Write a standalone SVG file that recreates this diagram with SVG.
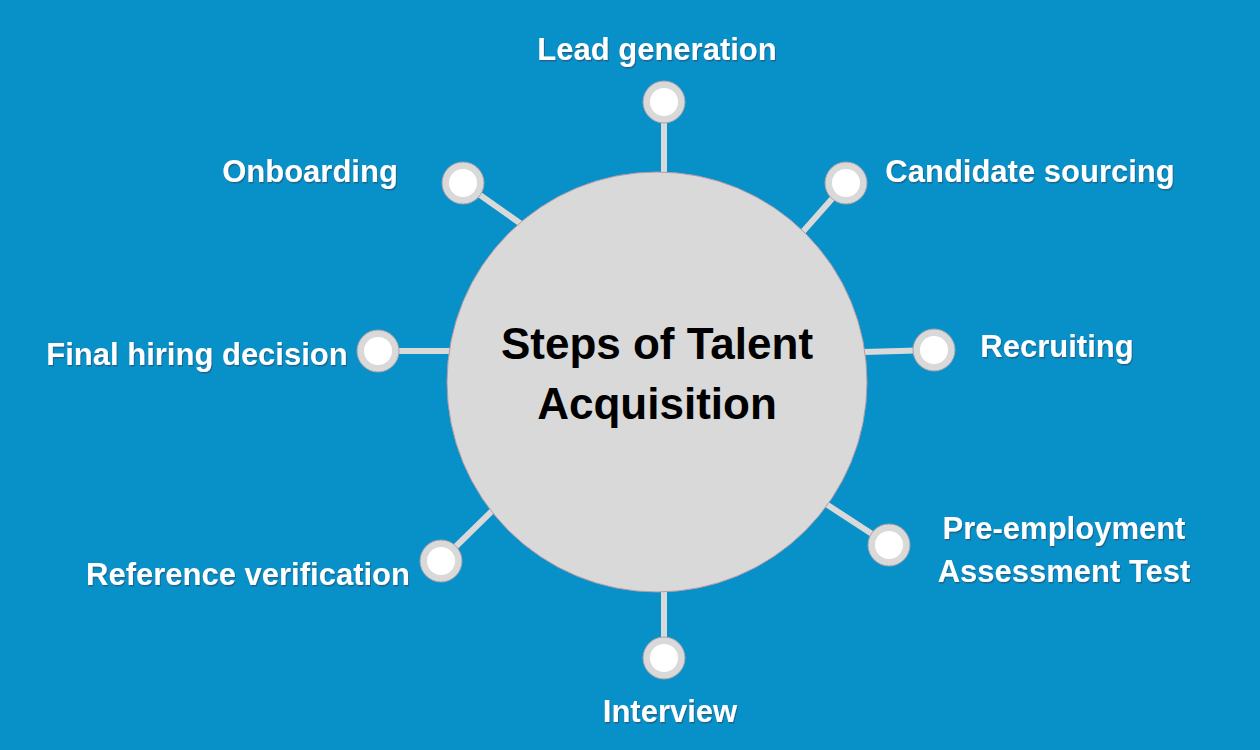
<svg xmlns="http://www.w3.org/2000/svg" width="1260" height="750" viewBox="0 0 1260 750">
<defs>
<filter id="sh" x="-10%" y="-30%" width="120%" height="160%">
<feDropShadow dx="1" dy="1.5" stdDeviation="0.6" flood-color="#3a2a40" flood-opacity="0.45"/>
</filter>
</defs>
<style>
.lbl{font-family:"Liberation Sans",Arial,sans-serif;font-weight:bold;font-size:31px;fill:#ffffff;text-anchor:middle;filter:url(#sh)}
.title{font-family:"Liberation Sans",Arial,sans-serif;font-weight:bold;font-size:44px;fill:#000000;text-anchor:middle}
.conn{stroke:#d9d9d9;stroke-width:6;fill:none}
.outer{fill:#d9d9d9;stroke:#a9a2ab;stroke-width:1}
.inner{fill:#ffffff}
</style>
<rect x="0" y="0" width="1260" height="750" fill="#0890c8"/>
<g id="connectors">
<line class="conn" x1="664" y1="102" x2="664" y2="176"/>
<line class="conn" x1="846" y1="183" x2="800" y2="235"/>
<line class="conn" x1="934" y1="350" x2="864" y2="352"/>
<line class="conn" x1="889" y1="545" x2="823" y2="502"/>
<line class="conn" x1="664" y1="658" x2="664" y2="589"/>
<line class="conn" x1="441" y1="561" x2="494" y2="509"/>
<line class="conn" x1="378" y1="351" x2="451" y2="351"/>
<line class="conn" x1="463" y1="183" x2="524" y2="226"/>
</g>
<g id="center">
<circle cx="657" cy="382" r="210" fill="#d9d9d9" stroke="#b39aa8" stroke-width="1"/>
<text class="title" x="657" y="359">Steps of Talent</text>
<text class="title" x="657" y="419">Acquisition</text>
</g>
<g id="lead-generation">
<circle class="outer" cx="664" cy="102" r="21"/><circle class="inner" cx="664" cy="102" r="14"/>
<text class="lbl" x="657" y="60">Lead generation</text>
</g>
<g id="candidate-sourcing">
<circle class="outer" cx="846" cy="183" r="21"/><circle class="inner" cx="846" cy="183" r="14"/>
<text class="lbl" x="1030" y="182">Candidate sourcing</text>
</g>
<g id="recruiting">
<circle class="outer" cx="934" cy="350" r="21"/><circle class="inner" cx="934" cy="350" r="14"/>
<text class="lbl" x="1057" y="357">Recruiting</text>
</g>
<g id="pre-employment">
<circle class="outer" cx="889" cy="545" r="21"/><circle class="inner" cx="889" cy="545" r="14"/>
<text class="lbl" x="1064" y="539">Pre-employment</text>
<text class="lbl" x="1064" y="582">Assessment Test</text>
</g>
<g id="interview">
<circle class="outer" cx="664" cy="658" r="21"/><circle class="inner" cx="664" cy="658" r="14"/>
<text class="lbl" x="670" y="722">Interview</text>
</g>
<g id="reference-verification">
<circle class="outer" cx="441" cy="561" r="21"/><circle class="inner" cx="441" cy="561" r="14"/>
<text class="lbl" x="248" y="585">Reference verification</text>
</g>
<g id="final-hiring-decision">
<circle class="outer" cx="378" cy="351" r="21"/><circle class="inner" cx="378" cy="351" r="14"/>
<text class="lbl" x="197" y="365">Final hiring decision</text>
</g>
<g id="onboarding">
<circle class="outer" cx="463" cy="183" r="21"/><circle class="inner" cx="463" cy="183" r="14"/>
<text class="lbl" x="310" y="182">Onboarding</text>
</g>
</svg>
